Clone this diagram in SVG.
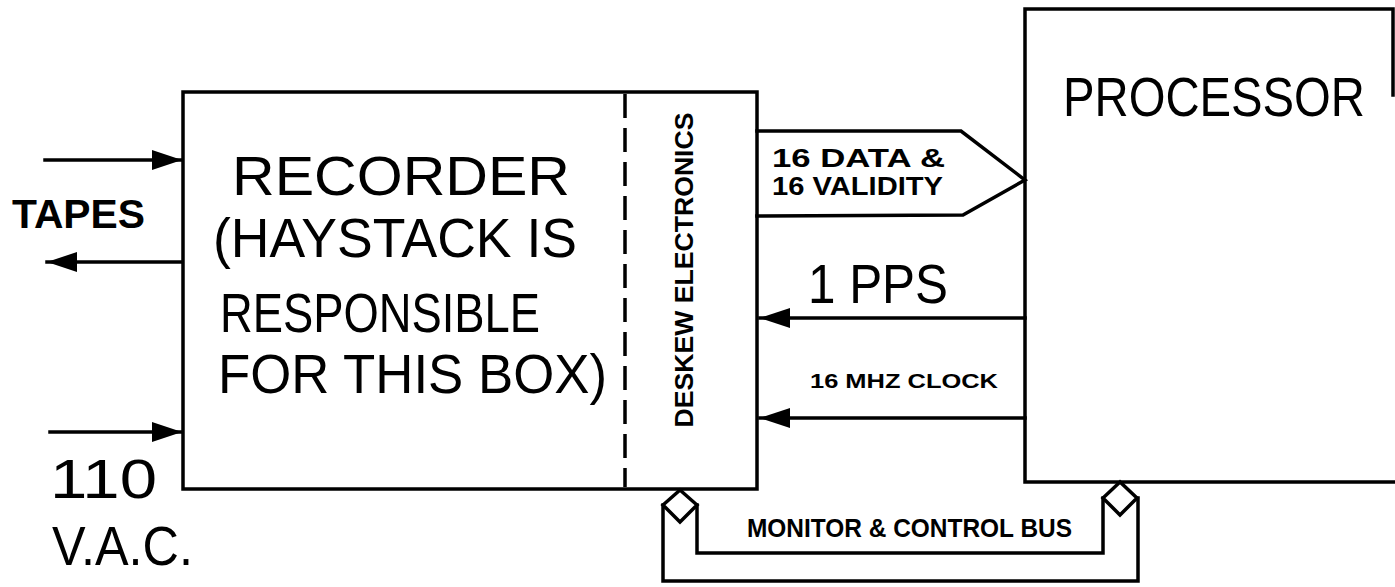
<svg xmlns="http://www.w3.org/2000/svg" width="1395" height="587" viewBox="0 0 1395 587">
<defs>
<marker id="ah" viewBox="0 0 30 20" refX="30" refY="10" markerWidth="30" markerHeight="20" markerUnits="userSpaceOnUse" orient="auto">
<path d="M0,0 L30,10 L0,20 Z" fill="#000"/>
</marker>
</defs>
<style>
.ln{fill:none;stroke:#000;stroke-width:3.5;stroke-linecap:square;stroke-linejoin:miter}
.big{font-family:"Liberation Sans",Arial,sans-serif;font-size:56px;fill:#000}
.sm{font-family:"Liberation Sans",Arial,sans-serif;font-weight:bold;fill:#000}
</style>
<rect width="1395" height="587" fill="#fff"/>
<g id="recorder">
<rect class="ln" x="183" y="92" width="574" height="397"/>
<line class="ln" x1="625" y1="94" x2="625" y2="487" stroke-dasharray="24 10" style="stroke-linecap:butt"/>
<text class="big" x="232" y="195" textLength="338" lengthAdjust="spacingAndGlyphs" font-size="58">RECORDER</text>
<text class="big" x="213" y="257" textLength="364" lengthAdjust="spacingAndGlyphs">(HAYSTACK IS</text>
<text class="big" x="220" y="332" textLength="320" lengthAdjust="spacingAndGlyphs">RESPONSIBLE</text>
<text class="big" x="218" y="393" textLength="389" lengthAdjust="spacingAndGlyphs">FOR THIS BOX)</text>
<text class="sm" transform="translate(693,270) rotate(-90)" text-anchor="middle" font-size="25" textLength="315" lengthAdjust="spacingAndGlyphs">DESKEW ELECTRONICS</text>
</g>
<g id="processor">
<path class="ln" d="M1393,95 L1393,9 L1025,9 L1025,482 L1395,482"/>
<text class="big" x="1063" y="116" font-size="48" textLength="302" lengthAdjust="spacingAndGlyphs">PROCESSOR</text>
</g>
<g id="connectors">
<line class="ln" x1="45" y1="160" x2="182" y2="160" marker-end="url(#ah)"/>
<line class="ln" x1="182" y1="262" x2="47" y2="262" marker-end="url(#ah)"/>
<line class="ln" x1="50" y1="432" x2="182" y2="432" marker-end="url(#ah)"/>
<path class="ln" d="M757,131 L961,131 L1025,180 L963,215 L757,216"/>
<line class="ln" x1="1025" y1="318" x2="760" y2="318" marker-end="url(#ah)"/>
<line class="ln" x1="1025" y1="418" x2="760" y2="418" marker-end="url(#ah)"/>
<path class="ln" d="M680,490 L663,505 L680,522 L697,505 Z"/>
<path class="ln" d="M663,505 L663,581 L1138,581 L1138,498"/>
<path class="ln" d="M697,505 L697,553 L1103,553 L1103,498"/>
<path class="ln" d="M1120,482 L1103,498 L1120,515 L1137,498 Z"/>
</g>
<g id="labels">
<text class="sm" x="12" y="228" font-size="41" textLength="133" lengthAdjust="spacingAndGlyphs">TAPES</text>
<text class="big" x="50" y="498" font-size="66" textLength="107" lengthAdjust="spacingAndGlyphs">110</text>
<text class="big" x="52" y="565" font-size="50" textLength="141" lengthAdjust="spacingAndGlyphs">V.A.C.</text>
<text class="sm" x="772" y="167" font-size="26" textLength="173" lengthAdjust="spacingAndGlyphs">16 DATA &amp;</text>
<text class="sm" x="772" y="195" font-size="26" textLength="171" lengthAdjust="spacingAndGlyphs">16 VALIDITY</text>
<text class="big" x="808" y="303" font-size="48" textLength="140" lengthAdjust="spacingAndGlyphs">1 PPS</text>
<text class="sm" x="810" y="388" font-size="21" textLength="188" lengthAdjust="spacingAndGlyphs">16 MHZ CLOCK</text>
<text class="sm" x="747" y="537" font-size="26" textLength="325" lengthAdjust="spacingAndGlyphs">MONITOR &amp; CONTROL BUS</text>
</g>
</svg>
